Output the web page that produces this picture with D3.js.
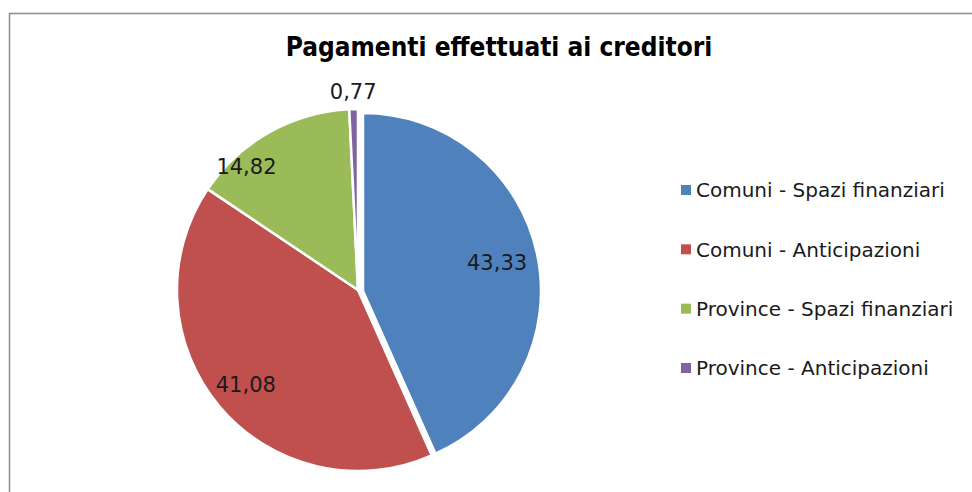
<!DOCTYPE html>
<html>
<head>
<meta charset="utf-8">
<script src="https://cdn.jsdelivr.net/npm/d3@7"></script>
<style>
  body { margin: 0; background: #fff; }
  svg { display: block; }
</style>
</head>
<body>
<svg id="chart" width="972" height="492"></svg>
<script>
// data
var categories = ["Comuni - Spazi finanziari", "Comuni - Anticipazioni", "Province - Spazi finanziari", "Province - Anticipazioni"];
var values = [43.33, 41.08, 14.82, 0.77];
var colors = ["#4F81BD", "#C0504D", "#9BBB59", "#8064A2"];
var title = "Pagamenti effettuati ai creditori";

var svg = d3.select("#chart");
var W = 972, H = 492;

// chart frame (only top and left edge are visible)
svg.append("rect")
    .attr("x", 9.5).attr("y", 13.5)
    .attr("width", W + 20).attr("height", H + 20)
    .attr("fill", "none")
    .attr("stroke", "#8c8c8c")
    .attr("stroke-width", 1.5);

svg.append("text")
    .attr("x", 499)
    .attr("y", 56)
    .attr("text-anchor", "middle")
    .style("font-family", "'DejaVu Sans Condensed', 'DejaVu Sans', sans-serif")
    .style("font-weight", "bold")
    .style("font-size", "26px")
    .style("fill", "#000")
    .text(title);

var locale = d3.formatLocale({ decimal: ",", thousands: ".", grouping: [3], currency: ["", "€"] });
var fmt = locale.format(".2f");

var cx = 358, cy = 290, r = 181;
var explodeR = 178;           // the blue slice is pulled out and a touch smaller
var explodeOffset = [5, 1];
var labelFrac = [0.77, 0.81, 0.92, 1.1];
var labelShift = [0, 0, -0.22, 0];   // Excel's best-fit nudge, in radians

var pie = d3.pie().sort(null).value(function(d) { return d; });
var arcs = pie(values);

var g = svg.append("g").attr("transform", "translate(" + cx + "," + cy + ")");

g.selectAll("path")
    .data(arcs)
    .enter().append("path")
    .attr("transform", function(d, i) {
        return i === 0 ? "translate(" + explodeOffset[0] + "," + explodeOffset[1] + ")" : null;
    })
    .attr("d", function(d, i) {
        return d3.arc().innerRadius(0).outerRadius(i === 0 ? explodeR : r)(d);
    })
    .attr("fill", function(d, i) { return colors[i]; })
    .attr("stroke", "#fff")
    .attr("stroke-width", 2.5)
    .attr("stroke-linejoin", "round");

g.selectAll("text.lbl")
    .data(arcs)
    .enter().append("text")
    .attr("class", "lbl")
    .attr("transform", function(d, i) {
        var rr = (i === 0 ? explodeR : r) * labelFrac[i];
        var a = (d.startAngle + d.endAngle) / 2 + labelShift[i];
        var x = Math.sin(a) * rr + (i === 0 ? explodeOffset[0] : 0);
        var y = -Math.cos(a) * rr + (i === 0 ? explodeOffset[1] : 0);
        return "translate(" + x + "," + y + ")";
    })
    .attr("text-anchor", "middle")
    .attr("dy", "0.36em")
    .style("font-family", "'DejaVu Sans', Verdana, sans-serif")
    .style("font-size", "21px")
    .style("fill", "#1a1a1a")
    .text(function(d) { return fmt(d.value); });

// legend
var legend = svg.append("g").attr("transform", "translate(681,0)");
var rowY = d3.scalePoint().domain(categories).range([190, 368]);

var items = legend.selectAll("g")
    .data(categories)
    .enter().append("g")
    .attr("transform", function(d) { return "translate(0," + rowY(d) + ")"; });

items.append("rect")
    .attr("x", 0).attr("y", -5)
    .attr("width", 10).attr("height", 10)
    .attr("fill", function(d, i) { return colors[i]; });

items.append("text")
    .attr("x", 15)
    .attr("dy", "0.36em")
    .style("font-family", "'DejaVu Sans', Verdana, sans-serif")
    .style("font-size", "20px")
    .style("fill", "#1a1a1a")
    .text(function(d) { return d; });
</script>
</body>
</html>
